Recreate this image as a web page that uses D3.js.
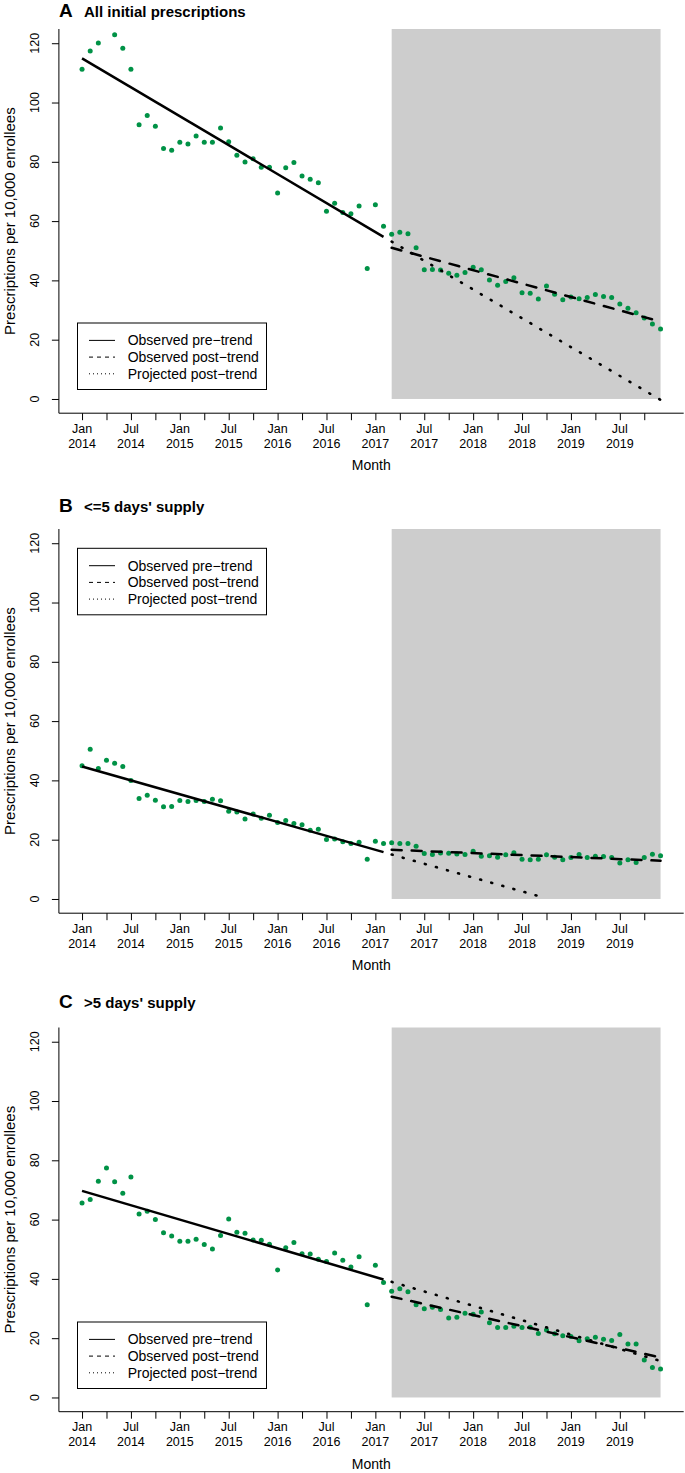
<!DOCTYPE html>
<html>
<head>
<meta charset="utf-8">
<script src="https://cdn.jsdelivr.net/npm/d3@7"></script>
<style>
  body { margin: 0; background: #fff; }
  svg text { font-family: "Liberation Sans", Arial, Helvetica, sans-serif; fill: #000; }
</style>
</head>
<body>
<div id="chart"></div>
<script>
var svgWidth = 685;
var svgHeight = 1473;

// ---- data (month index 0 = Jan 2014 ... 71 = Dec 2019) ----
var panelLetters = ['A', 'B', 'C'];
var panelTitles = ['All initial prescriptions', "<=5 days' supply", ">5 days' supply"];

// Apr 2014 of panel A falls above the plot region and is not visible
var allRx = [111.2, 117.4, 120.1, null, 122.9, 118.3, 111.2, 92.5, 95.6, 92.0,
    84.5, 83.9, 86.6, 86.0, 88.7, 86.6, 86.6, 91.4, 86.8, 82.2,
    79.9, 81.0, 78.2, 78.2, 69.5, 78.0, 79.8, 75.2, 74.1, 72.9,
    63.3, 66.0, 62.9, 62.5, 65.1, 44.0, 65.5, 58.3, 55.6, 56.2,
    55.7, 51.0, 43.6, 43.7, 43.5, 42.4, 41.7, 42.7, 44.4, 43.6,
    40.1, 38.4, 39.6, 40.9, 35.8, 35.7, 33.7, 38.1, 35.3, 33.5,
    34.4, 33.8, 34.2, 35.2, 34.6, 34.2, 32.0, 30.6, 29.1, 27.3,
    25.3, 23.6];

var shortRx = [44.9, 50.5, 44.0, 46.8, 45.8, 44.7, 40.0, 33.9, 35.0, 33.3,
    31.1, 31.2, 33.2, 32.9, 33.2, 32.9, 33.6, 33.1, 29.6, 29.3,
    27.0, 28.7, 27.2, 28.2, 25.8, 26.5, 25.5, 25.0, 23.2, 23.5,
    20.1, 20.2, 19.3, 18.7, 19.1, 13.4, 19.5, 18.7, 19.0, 18.7,
    18.7, 17.8, 15.3, 15.0, 15.5, 15.4, 15.2, 15.0, 16.1, 14.4,
    14.6, 14.1, 14.9, 15.6, 13.4, 13.2, 13.4, 14.9, 14.1, 13.2,
    14.0, 15.0, 14.0, 14.4, 14.3, 14.0, 12.1, 13.2, 12.3, 14.0,
    15.1, 14.6];

var longRx = [65.6, 66.8, 72.9, 77.4, 72.8, 68.9, 74.4, 61.9, 62.8, 60.0,
    55.6, 54.5, 52.7, 52.7, 53.4, 51.6, 50.1, 54.6, 60.2, 55.7,
    55.4, 53.1, 53.0, 51.7, 43.0, 50.5, 52.3, 48.5, 48.4, 46.6,
    45.9, 48.7, 46.3, 44.0, 47.5, 31.3, 44.6, 38.8, 35.8, 36.7,
    35.7, 31.3, 29.9, 30.4, 29.7, 26.8, 27.1, 28.4, 28.1, 28.8,
    25.2, 23.6, 23.6, 24.0, 23.6, 23.7, 21.6, 22.8, 21.5, 20.8,
    20.6, 19.1, 19.8, 20.3, 19.6, 19.2, 21.2, 18.0, 18.0, 12.6,
    10.1, 9.6];

var seriesValues = [allRx, shortRx, longRx];

// trend segments: [month, value] at start and end
var preTrend = [[[0, 114.9], [37, 54.7]], [[0, 44.7], [37, 15.8]], [[0, 69.7], [37, 39.8]]];
var postTrend = [[[38, 51.0], [71, 26.1]], [[38, 16.6], [71, 12.9]], [[38, 34.0], [71, 13.5]]];
var projTrend = [[[38, 53.1], [71, -0.3]], [[38, 15.0], [56, 1.0]], [[38, 39.0], [71, 12.3]]];

var postStart = 38;   // Mar 2017
var lastMonth = 71;   // Dec 2019

var xTickMonths = d3.range(0, 70, 3);
var xLabelMonths = [0, 6, 12, 18, 24, 30, 36, 42, 48, 54, 60, 66];
var xLabelText = [['Jan', '2014'], ['Jul', '2014'], ['Jan', '2015'], ['Jul', '2015'],
    ['Jan', '2016'], ['Jul', '2016'], ['Jan', '2017'], ['Jul', '2017'],
    ['Jan', '2018'], ['Jul', '2018'], ['Jan', '2019'], ['Jul', '2019']];
var yTicks = [0, 20, 40, 60, 80, 100, 120];

var legendLabels = ['Observed pre\u2212trend', 'Observed post\u2212trend', 'Projected post\u2212trend'];

// ---- layout ----
var panelTop = [29, 529, 1027.5];
var titleBase = [17, 512, 1008];
var legendTop = [323, 548.3, 1322];
var plotH = 384.2;
var plotLeft = 58.9;
var plotRight = 683.7;

var green = '#009246';

var svg = d3.select('#chart')
    .append('svg')
    .attr('width', svgWidth)
    .attr('height', svgHeight);

var x = d3.scaleLinear()
    .domain([-2.84, 73.84])
    .range([plotLeft, plotRight]);

var line = d3.line()
    .x(d => x(d[0]));

panelLetters.forEach(function(letter, p) {
    var top = panelTop[p];
    var bottom = top + plotH;

    var y = d3.scaleLinear()
        .domain([-4.8, 124.8])
        .range([bottom, top]);

    line.y(d => y(d[1]));

    var g = svg.append('g');

    // shaded post period
    g.append('rect')
        .attr('x', x(postStart))
        .attr('y', top)
        .attr('width', x(lastMonth) - x(postStart))
        .attr('height', y(0) - top)
        .attr('fill', '#cdcdcd');

    // monthly points
    var pts = seriesValues[p]
        .map((v, i) => [i, v])
        .filter(d => d[1] !== null);

    g.selectAll('circle')
        .data(pts)
        .enter()
        .append('circle')
        .attr('cx', d => x(d[0]))
        .attr('cy', d => y(d[1]))
        .attr('r', 2.5)
        .attr('fill', green);

    // trend lines
    g.append('path')
        .attr('d', line(preTrend[p]))
        .attr('stroke', '#000')
        .attr('stroke-width', 2.5)
        .attr('fill', 'none');

    g.append('path')
        .attr('d', line(postTrend[p]))
        .attr('stroke', '#000')
        .attr('stroke-width', 2.5)
        .attr('stroke-dasharray', '10,10')
        .attr('stroke-linecap', 'round')
        .attr('fill', 'none');

    g.append('path')
        .attr('d', line(projTrend[p]))
        .attr('stroke', '#000')
        .attr('stroke-width', 2.6)
        .attr('stroke-dasharray', '1,10.5')
        .attr('stroke-linecap', 'round')
        .attr('fill', 'none');

    // L-shaped frame
    g.append('path')
        .attr('d', `M${plotLeft},${top}V${bottom}H${plotRight}`)
        .attr('stroke', '#000')
        .attr('stroke-width', 1)
        .attr('fill', 'none');

    // x axis ticks
    var bottomAxis = d3.axisBottom(x)
        .tickValues(xTickMonths)
        .tickSize(7)
        .tickFormat('');

    var xAxis = g.append('g')
        .attr('transform', `translate(0, ${bottom})`)
        .call(bottomAxis);
    xAxis.select('.domain').remove();
    xAxis.selectAll('line').attr('stroke', '#000');

    var xLab = g.selectAll('.xlab')
        .data(xLabelMonths)
        .enter()
        .append('text')
        .attr('class', 'xlab')
        .attr('text-anchor', 'middle')
        .attr('font-size', '12.5px');
    xLab.append('tspan')
        .attr('x', d => x(d))
        .attr('y', bottom + 19.5)
        .text((d, i) => xLabelText[i][0]);
    xLab.append('tspan')
        .attr('x', d => x(d))
        .attr('y', bottom + 34.5)
        .text((d, i) => xLabelText[i][1]);

    g.append('text')
        .attr('x', (plotLeft + plotRight) / 2)
        .attr('y', bottom + 57)
        .attr('text-anchor', 'middle')
        .attr('font-size', '14px')
        .text('Month');

    // y axis
    var leftAxis = d3.axisLeft(y)
        .tickValues(yTicks)
        .tickSize(7)
        .tickFormat('');

    var yAxis = g.append('g')
        .attr('transform', `translate(${plotLeft}, 0)`)
        .call(leftAxis);
    yAxis.select('.domain').remove();
    yAxis.selectAll('line').attr('stroke', '#000');

    g.selectAll('.ylab')
        .data(yTicks)
        .enter()
        .append('text')
        .attr('class', 'ylab')
        .attr('transform', d => `translate(34.5, ${y(d)}) rotate(-90)`)
        .attr('text-anchor', 'middle')
        .attr('dy', '0.35em')
        .attr('font-size', '12.5px')
        .text(d => d);

    g.append('text')
        .attr('transform', `translate(10, ${(top + bottom) / 2}) rotate(-90)`)
        .attr('text-anchor', 'middle')
        .attr('dy', '0.35em')
        .attr('font-size', '15px')
        .text('Prescriptions per 10,000 enrollees');

    // panel title
    g.append('text')
        .attr('x', 59)
        .attr('y', titleBase[p])
        .attr('font-size', '19px')
        .attr('font-weight', 'bold')
        .text(letter);
    g.append('text')
        .attr('x', 84)
        .attr('y', titleBase[p] - 0.5)
        .attr('font-size', '15px')
        .attr('font-weight', 'bold')
        .text(panelTitles[p]);

    // legend
    var lt = legendTop[p];
    var legend = g.append('g');
    legend.append('rect')
        .attr('x', 77.5)
        .attr('y', lt)
        .attr('width', 189)
        .attr('height', 66.5)
        .attr('fill', '#fff')
        .attr('stroke', '#000')
        .attr('stroke-width', 1);

    var dashes = [null, '4,4', '1,3'];
    legendLabels.forEach(function(lab, i) {
        var ly = lt + 17.4 + i * 16.7;
        legend.append('line')
            .attr('x1', 89)
            .attr('x2', 115)
            .attr('y1', ly)
            .attr('y2', ly)
            .attr('stroke', '#000')
            .attr('stroke-width', 1)
            .attr('stroke-dasharray', dashes[i]);
        legend.append('text')
            .attr('x', 127.7)
            .attr('y', ly)
            .attr('dy', '0.35em')
            .attr('font-size', '14px')
            .text(lab);
    });
});
</script>
</body>
</html>
